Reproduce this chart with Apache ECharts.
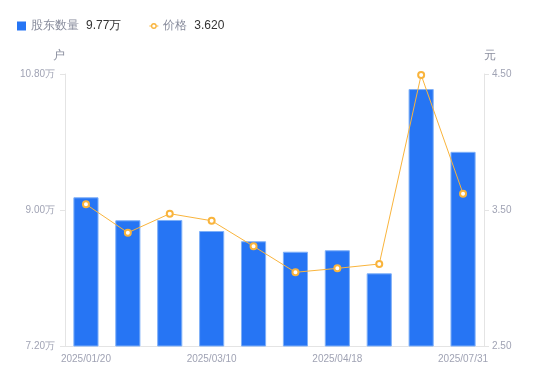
<!DOCTYPE html>
<html>
<head>
<meta charset="utf-8">
<script src="https://cdn.jsdelivr.net/npm/echarts@6/dist/echarts.min.js"></script>
<style>html,body{margin:0;padding:0;background:#fff}#c{width:550px;height:381px}</style>
</head>
<body>
<div id="c"></div>
<script>
var categories = ['2025/01/20','2025/02/10','2025/02/28','2025/03/10','2025/03/20','2025/03/31','2025/04/18','2025/04/30','2025/06/30','2025/07/31'];
var holders = [9.168, 8.864, 8.868, 8.722, 8.586, 8.448, 8.467, 8.162, 10.601, 9.77];
var prices = [3.542, 3.333, 3.473, 3.421, 3.233, 3.042, 3.071, 3.103, 4.493, 3.620];
var leftTicks = [7.2, 9.0, 10.8];
var rightTicks = [2.5, 3.5, 4.5];
var legendValues = {'股东数量': '9.77万', '价格': '3.620'};

var chart = echarts.init(document.getElementById('c'));
var labelColor = '#a0a3b4';
var lineColor = '#e4e4e4';
var lineIcon = 'path://M0 0h0.01v0.01H0z M0 8.99h0.01v0.01H0z M0 4.1h1.8v0.8H0z M7.2 4.1H9v0.8H7.2z M4.5 1.6a2.9 2.9 0 1 1 0 5.8a2.9 2.9 0 1 1 0-5.8z M4.5 2.9a1.6 1.6 0 1 0 0 3.2a1.6 1.6 0 1 0 0-3.2z';
chart.setOption({
  animation: false,
  legend: {
    left: 12, top: 15,
    itemWidth: 9, itemHeight: 9, itemGap: 28,
    data: [
      {name: '股东数量', icon: 'rect', itemStyle: {borderWidth: 0}},
      {name: '价格', icon: lineIcon, itemStyle: {borderWidth: 0, color: '#f9b43c'}}
    ],
    formatter: function (n) { return '{n|' + n + '}{v|' + legendValues[n] + '}'; },
    textStyle: {
      rich: {
        n: {color: '#888c9c', fontSize: 12},
        v: {color: '#333333', fontSize: 12, padding: [0, 0, 0, 7]}
      }
    }
  },
  grid: {left: 65, right: 66, top: 74, bottom: 35},
  xAxis: {
    type: 'category',
    data: categories,
    axisLine: {lineStyle: {color: lineColor}},
    axisTick: {show: false},
    axisLabel: {color: labelColor, fontSize: 10, interval: 2, margin: 8}
  },
  yAxis: [{
    type: 'value',
    name: '户',
    nameLocation: 'end',
    nameGap: 12,
    nameTextStyle: {color: '#8a8e9e', fontSize: 12, align: 'center', padding: [0, 12, 0, 0]},
    min: leftTicks[0], max: leftTicks[2], interval: leftTicks[1] - leftTicks[0],
    axisLine: {show: true, lineStyle: {color: lineColor}},
    axisTick: {show: true, length: 5, lineStyle: {color: lineColor}},
    splitLine: {show: false},
    axisLabel: {color: labelColor, fontSize: 10, margin: 10, formatter: function (v) { return v.toFixed(2) + '万'; }}
  }, {
    type: 'value',
    name: '元',
    position: 'right',
    nameLocation: 'end',
    nameGap: 12,
    nameTextStyle: {color: '#8a8e9e', fontSize: 12, align: 'center', padding: [0, 0, 0, 12]},
    min: rightTicks[0], max: rightTicks[2], interval: rightTicks[1] - rightTicks[0],
    axisLine: {show: true, lineStyle: {color: lineColor}},
    axisTick: {show: true, length: 5, lineStyle: {color: lineColor}},
    splitLine: {show: false},
    axisLabel: {color: labelColor, fontSize: 10, margin: 8, formatter: function (v) { return v.toFixed(2); }}
  }],
  series: [{
    name: '股东数量',
    type: 'bar',
    yAxisIndex: 0,
    data: holders,
    barWidth: '60%',
    itemStyle: {color: '#2675f4', borderColor: '#7fb0f8', borderWidth: 1}
  }, {
    name: '价格',
    type: 'line',
    yAxisIndex: 1,
    data: prices,
    symbol: 'emptyCircle',
    symbolSize: 6,
    lineStyle: {color: '#f9b43c', width: 1},
    itemStyle: {color: '#f9b43c', borderWidth: 2}
  }]
});
</script>
</body>
</html>
